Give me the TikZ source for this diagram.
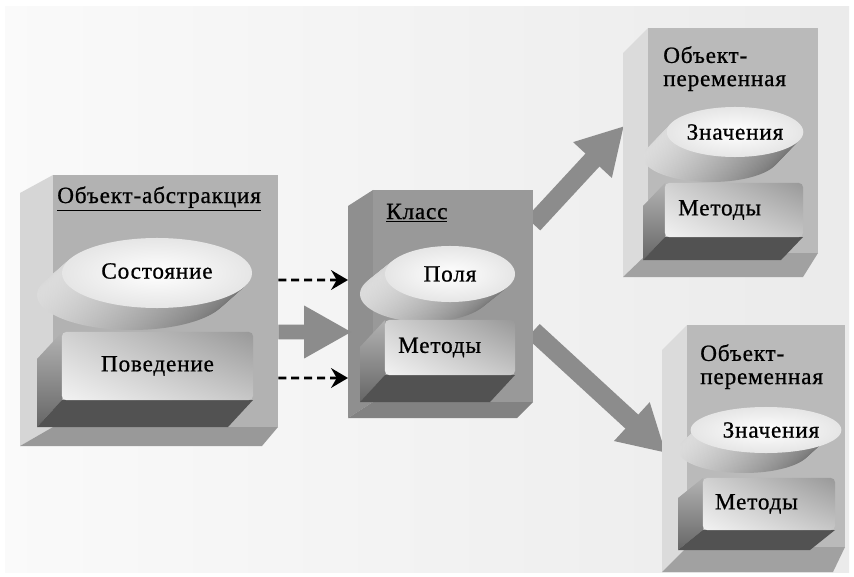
\documentclass[tikz,border=0pt]{standalone}
\usepackage{fontspec}
\setmainfont{Liberation Serif}[LetterSpace=3.5, FakeBold=0.8]
\usetikzlibrary{positioning, arrows.meta, shapes.geometric, shadings, fit, calc, backgrounds}

\begin{document}
\begin{tikzpicture}[x=0.025cm, y=-0.025cm,
    every node/.style={font=\rmfamily\fontsize{16.5}{16.5}\selectfont, inner sep=0pt},
    panel/.style={left color=black!2, right color=black!8},
    absfront/.style={fill=black!30},
    absside/.style={fill=black!16},
    absbase/.style={fill=black!40},
    clsfront/.style={fill=black!40},
    clsside/.style={fill=black!44},
    clsbase/.style={fill=black!49},
    varfront/.style={fill=black!27},
    varside/.style={fill=black!14},
    varbase/.style={fill=black!37},
    lid/.style={ellipse, shade, inner color=white, outer color=black!10},
    lidside/.style={left color=black!14, right color=black!55},
    plate/.style={rectangle, rounded corners=3pt, shade, upper left=black!18, upper right=black!40, lower left=black!5, lower right=black!22},
    plateside/.style={top color=black!30, bottom color=black!60},
    platebase/.style={fill=black!68},
    ref/.style={-{Stealth[length=12pt, width=14pt, inset=4pt]}, line width=2pt, dash pattern=on 5.7pt off 3.5pt},
    flow/.style={-{Triangle[length=34pt, width=35pt]}, line width=10.6pt, draw=black!45},
    spawn/.style={-{Triangle[length=33pt, width=35pt]}, line width=13.5pt, draw=black!45}]

  \useasboundingbox (0,0) rectangle (854,577);
  \begin{scope}[on background layer]
    \shade[panel] (5,7) rectangle (849,572);
  \end{scope}

  % abstraction object
  \fill[absside] (53,175) -- (20,193) -- (20,446) -- (53,427) -- cycle;
  \fill[absbase] (53,427) -- (20,446) -- (262,446) -- (278,427) -- cycle;
  \coordinate (absNW) at (53,175);
  \coordinate (absSE) at (278,427);
  \node[absfront, fit=(absNW)(absSE)] (abs) {};
  \node[anchor=base west] (absTitle) at (57,203) {\underline{Объект-абстракция}};

  \coordinate (stateC) at (157,273);
  \foreach \k in {16,...,1}
    \shade[lidside] ($(stateC)+(-25*\k/16,22*\k/16)$) ellipse [x radius=95, y radius=35];
  \node[lid, minimum width=4.75cm, minimum height=1.75cm] (state) at (stateC) {\raisebox{3pt}{Состояние}};

  \shade[plateside] (62,332) -- (37,359) -- (37,427) -- (62,400) -- cycle;
  \fill[platebase] (62,400) -- (37,427) -- (228,427) -- (253,400) -- cycle;
  \node[plate, minimum width=4.775cm, minimum height=1.7cm] (behav) at (157.5,366) {Поведение};

  % class
  \fill[clsside] (373,190) -- (348,206) -- (348,418) -- (373,402) -- cycle;
  \fill[clsbase] (373,402) -- (348,418) -- (517,418) -- (533,402) -- cycle;
  \coordinate (clsNW) at (373,190);
  \coordinate (clsSE) at (533,402);
  \node[clsfront, fit=(clsNW)(clsSE)] (cls) {};
  \node[anchor=base west] (clsTitle) at (386,219) {\underline{Класс}};

  \coordinate (fieldsC) at (450,274);
  \foreach \k in {16,...,1}
    \shade[lidside] ($(fieldsC)+(-25*\k/16,20*\k/16)$) ellipse [x radius=65, y radius=28];
  \node[lid, minimum width=3.25cm, minimum height=1.4cm] (fields) at (fieldsC) {Поля};

  \shade[plateside] (385,320) -- (360,347) -- (360,402) -- (385,375) -- cycle;
  \fill[platebase] (385,375) -- (360,402) -- (490,402) -- (515,375) -- cycle;
  \node[plate, minimum width=3.25cm, minimum height=1.375cm,
        label={[anchor=west, xshift=0.33cm]west:Методы}] (clsMeth) at (450,347.5) {};

  % variable object, upper
  \fill[varside] (648,28) -- (623,53) -- (623,277) -- (648,253) -- cycle;
  \fill[varbase] (648,253) -- (623,277) -- (803,277) -- (818,253) -- cycle;
  \coordinate (varANW) at (648,28);
  \coordinate (varASE) at (818,253);
  \node[varfront, fit=(varANW)(varASE)] (varA) {};
  \node[anchor=north west, align=left] (varATitle) at (663,46) {Объект-\\переменная};

  \coordinate (valAC) at (735,132);
  \foreach \k in {16,...,1}
    \shade[lidside] ($(valAC)+(-24*\k/16,25*\k/16)$) ellipse [x radius=68, y radius=25];
  \node[lid, minimum width=3.4cm, minimum height=1.25cm] (valA) at (valAC) {Значения};

  \shade[plateside] (665,183) -- (643,206) -- (643,260) -- (665,237) -- cycle;
  \fill[platebase] (665,237) -- (643,260) -- (781,260) -- (803,237) -- cycle;
  \node[plate, minimum width=3.45cm, minimum height=1.35cm,
        label={[anchor=west, xshift=0.33cm]west:Методы}] (methA) at (734,210) {};

  % variable object, lower
  \fill[varside] (687,325) -- (662,350) -- (662,572) -- (687,547) -- cycle;
  \fill[varbase] (687,547) -- (662,572) -- (833,572) -- (845,547) -- cycle;
  \coordinate (varBNW) at (687,325);
  \coordinate (varBSE) at (845,547);
  \node[varfront, fit=(varBNW)(varBSE)] (varB) {};
  \node[anchor=north west, align=left] (varBTitle) at (700,344) {Объект-\\переменная};

  \coordinate (valBC) at (766,430);
  \foreach \k in {16,...,1}
    \shade[lidside] ($(valBC)+(-22*\k/16,20*\k/16)$) ellipse [x radius=66, y radius=23];
  \node[lid, minimum width=3.3cm, minimum height=1.15cm] (valB) at (valBC) {\hspace{0.25cm}Значения};

  \shade[plateside] (703,478) -- (678,498) -- (678,550) -- (703,530) -- cycle;
  \fill[platebase] (703,530) -- (678,550) -- (810,550) -- (835,530) -- cycle;
  \node[plate, minimum width=3.3cm, minimum height=1.3cm,
        label={[anchor=west, xshift=0.3cm]west:Методы}] (methB) at (769,504) {};

  % connectors
  \coordinate (refTop) at (348,280);
  \coordinate (refLow) at (348,378);
  \coordinate (flowTip) at (352,332);
  \coordinate (topTip) at (624,126);
  \coordinate (botTip) at (666,453);

  \draw[ref] ([yshift=0.525cm]abs.east) -- (refTop);
  \draw[ref] ([yshift=-1.925cm]abs.east) -- (refLow);
  \draw[flow] ([yshift=-0.775cm]abs.east) -- (flowTip);
  \begin{scope}[on background layer]
    \draw[spawn] ([yshift=1.8cm]cls.east) -- (topTip);
    \draw[spawn] ([yshift=-0.875cm]cls.east) -- (botTip);
  \end{scope}
\end{tikzpicture}
\end{document}
